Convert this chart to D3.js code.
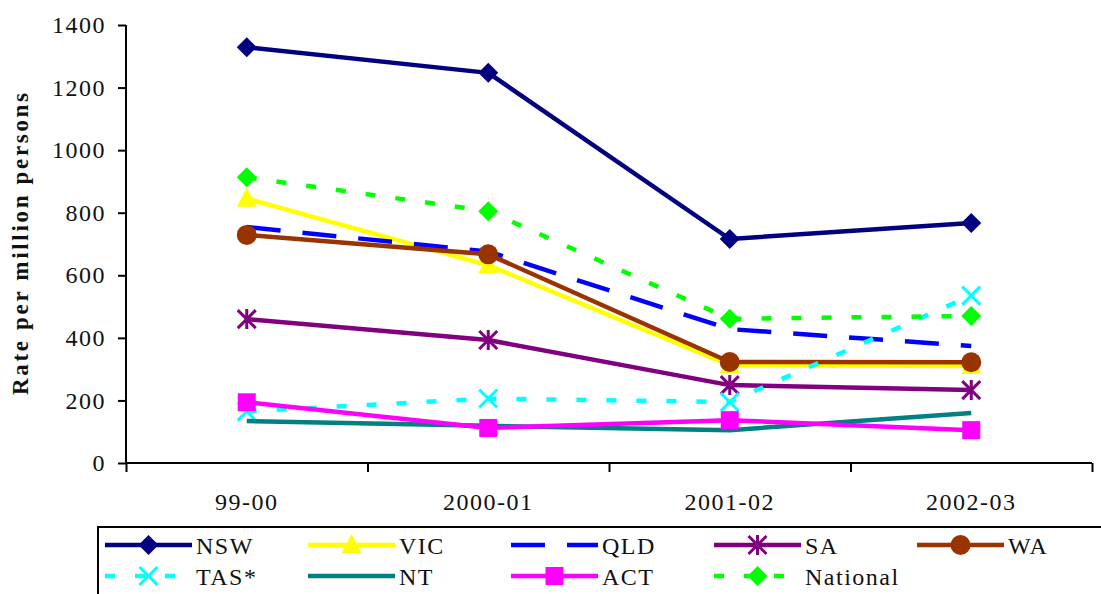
<!DOCTYPE html>
<html><head><meta charset="utf-8">
<script src="https://cdn.jsdelivr.net/npm/d3@7"></script>
</head>
<body style="margin:0;background:#fff"><svg id="c" width="1101" height="594"></svg>
<script>
const categories = ["99-00","2000-01","2001-02","2002-03"];
const yTicks = [0,200,400,600,800,1000,1200,1400];
const seriesNames = ["NSW","VIC","QLD","SA","WA","TAS*","NT","ACT","National"];
const NSW = [1329,1247,716,767];
const VIC = [845,632,313,310];
const QLD = [754,676,428,374];
const SA = [460,393,249,233];
const WA = [729,667,323,322];
const TAS = [165,206,195,535];
const NT = [134,119,105,160];
const ACT = [194,112,137,105];
const National = [913,805,461,470];
const yTitle = "Rate per million persons";

const styles = [
  {c:"#000080", dash:null, m:"diamond"},
  {c:"#FFFF00", dash:null, m:"triangle"},
  {c:"#0000FF", dash:"34,22", m:null},
  {c:"#800080", dash:null, m:"asterisk"},
  {c:"#993300", dash:null, m:"circle"},
  {c:"#00FFFF", dash:"10,20", m:"x"},
  {c:"#008080", dash:null, m:null},
  {c:"#FF00FF", dash:null, m:"square"},
  {c:"#00FF00", dash:"10,20", m:"diamond"}
];
const values = [NSW,VIC,QLD,SA,WA,TAS,NT,ACT,National];
const FONT = '"Liberation Serif"';

const svg = d3.select("#c");
const x = d3.scaleBand().domain(categories).range([126,1092]).padding(0);
const xEdge = d3.scaleLinear().domain([0,categories.length]).range([126,1092]);
const y = d3.scaleLinear().domain([0,1400]).range([463,25]);
const cx = d => x(d) + x.bandwidth()/2;

function styleText(sel){
  sel.style("font-family",FONT).style("font-size","24px").style("letter-spacing","1.5px").attr("fill","#111");
}

// Y axis
const ya = svg.append("g").attr("transform","translate(126,0)")
  .call(d3.axisLeft(y).tickValues(yTicks).tickSize(8).tickPadding(12).tickFormat(d3.format("d")));
ya.selectAll("path,line").attr("stroke","#000").attr("stroke-width",2);
ya.select(".domain").attr("d","M0,25V463");
styleText(ya.selectAll("text"));

// X axis ticks at boundaries
const xa = svg.append("g").attr("transform","translate(0,463)")
  .call(d3.axisBottom(xEdge).tickValues(d3.range(categories.length+1)).tickSize(9).tickFormat(""));
xa.selectAll("path,line").attr("stroke","#000").attr("stroke-width",2);
xa.select(".domain").attr("d","M126,0H1092");
const xl = svg.append("g").attr("transform","translate(0,463)")
  .call(d3.axisBottom(x).tickSize(0).tickPadding(30));
xl.select(".domain").remove();
styleText(xl.selectAll("text"));

// Y title
svg.append("text").attr("transform","translate(28,244) rotate(-90)")
  .style("font-family",FONT).style("font-weight","bold").style("font-size","23px")
  .attr("text-anchor","middle")
  .attr("textLength",302).attr("lengthAdjust","spacing").attr("fill","#111").text(yTitle);

function marker(g, type, col, px, py){
  if(!type) return;
  if(type==="diamond"){
    g.append("path").attr("d",`M${px},${py-10}L${px+10},${py}L${px},${py+10}L${px-10},${py}Z`).attr("fill",col);
  } else if(type==="triangle"){
    g.append("path").attr("d",`M${px},${py-11}L${px+10},${py+8}L${px-10},${py+8}Z`).attr("fill",col);
  } else if(type==="circle"){
    g.append("circle").attr("cx",px).attr("cy",py).attr("r",10).attr("fill",col);
  } else if(type==="square"){
    g.append("rect").attr("x",px-9).attr("y",py-9).attr("width",18).attr("height",18).attr("fill",col);
  } else if(type==="x"){
    g.append("path").attr("d",`M${px-9},${py-9}L${px+9},${py+9}M${px+9},${py-9}L${px-9},${py+9}`)
      .attr("stroke",col).attr("stroke-width",3);
  } else if(type==="asterisk"){
    g.append("path").attr("d",`M${px},${py-10}L${px},${py+10}M${px-9},${py-9}L${px+9},${py+9}M${px+9},${py-9}L${px-9},${py+9}`)
      .attr("stroke",col).attr("stroke-width",3);
  }
}

const line = d3.line().x((d,i)=>cx(categories[i])).y(d=>y(d));
values.forEach((vals,k)=>{
  const st = styles[k];
  const g = svg.append("g");
  g.append("path").datum(vals).attr("d",line).attr("fill","none")
    .attr("stroke",st.c).attr("stroke-width",4.5)
    .attr("stroke-dasharray",st.dash).attr("stroke-linejoin","round");
  vals.forEach((v,i)=>marker(g, st.m, st.c, cx(categories[i]), y(v)));
});

// Legend
svg.append("rect").attr("x",98).attr("y",527).attr("width",1020).attr("height",100)
  .attr("fill","#fff").attr("stroke","#000").attr("stroke-width",2);
seriesNames.forEach((n,k)=>{
  const st = styles[k];
  const col = k<5 ? k : k-5;
  const row = k<5 ? 0 : 1;
  const lx = 105 + col*203, ly = 545 + row*31;
  const g = svg.append("g");
  g.append("line").attr("x1",lx).attr("x2",lx+87).attr("y1",ly).attr("y2",ly)
    .attr("stroke",st.c).attr("stroke-width",4.5).attr("stroke-dasharray",st.dash);
  marker(g, st.m, st.c, lx+43.5, ly);
  const t = g.append("text").attr("x",lx+91).attr("y",ly+9).text(n);
  styleText(t);
});
</script></body></html>
